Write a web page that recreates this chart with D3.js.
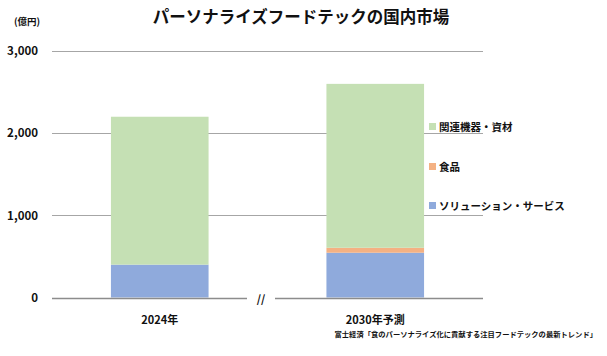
<!DOCTYPE html>
<html><head><meta charset="utf-8">
<script src="https://cdn.jsdelivr.net/npm/d3@7"></script>
<style>
body{margin:0;background:#fff;}
text{font-family:"Noto Sans CJK JP","Noto Sans",sans-serif;font-weight:bold;fill:#111;}
</style></head>
<body><svg id="c" width="607" height="356"></svg>
<script>
const categories = ["2024年", "2030年予測"];
const seriesNames = ["ソリューション・サービス", "食品", "関連機器・資材"];
const solution = [400, 545];
const food = [0, 60];
const equipment = [1800, 1995];
const yTicks = [0, 1000, 2000, 3000];
const colors = ["#8FAADC", "#F4B183", "#C5E0B4"];

const svg = d3.select("#c");
const rows = categories.map((c, i) => ({cat: c, s0: solution[i], s1: food[i], s2: equipment[i]}));
const keys = ["s0", "s1", "s2"];
const stack = d3.stack().keys(keys)(rows);

const y = d3.scaleLinear().domain([0, 3000]).range([297.5, 51]);
const x = d3.scaleBand().domain(categories).range([52, 483]).paddingInner(0.547).paddingOuter(0.2735);

// gridlines
svg.append("g").selectAll("line").data(yTicks.filter(d => d > 0)).join("line")
  .attr("x1", 52).attr("x2", 483)
  .attr("y1", d => Math.round(y(d)) + 0.5).attr("y2", d => Math.round(y(d)) + 0.5)
  .attr("stroke", "#A6A6A6").attr("stroke-width", 1.2);

// bars
svg.append("g").selectAll("g").data(stack).join("g")
  .attr("fill", (d, i) => colors[i])
  .selectAll("rect").data(d => d).join("rect")
  .attr("x", d => x(d.data.cat)).attr("width", x.bandwidth())
  .attr("y", d => y(d[1])).attr("height", d => y(d[0]) - y(d[1]));

// baseline with break
const by = Math.round(y(0)) + 0.5;
svg.append("line").attr("x1", 52).attr("x2", 247).attr("y1", by).attr("y2", by).attr("stroke", "#8C8C8C").attr("stroke-width", 1.3);
svg.append("line").attr("x1", 275).attr("x2", 483).attr("y1", by).attr("y2", by).attr("stroke", "#8C8C8C").attr("stroke-width", 1.3);
svg.append("text").attr("x", 261).attr("y", by + 4).attr("text-anchor", "middle").attr("font-size", 11).text("//");

// y axis labels
const yAxis = d3.axisLeft(y).tickValues(yTicks).tickSize(0).tickPadding(0).tickFormat(d3.format(","));
const ya = svg.append("g").attr("transform", "translate(38,0)").call(yAxis);
ya.select(".domain").remove();
ya.selectAll("text").attr("font-size", 11.5).attr("font-family", null).style("fill", "#111");

// x axis labels
const xAxis = d3.axisBottom(x).tickSize(0).tickPadding(0);
const xa = svg.append("g").attr("transform", "translate(0,316)").call(xAxis);
xa.select(".domain").remove();
xa.selectAll("text").attr("font-size", 11).attr("font-family", null).style("fill", "#111");

// title
svg.append("text").attr("x", 301).attr("y", 23).attr("text-anchor", "middle").attr("font-size", 16.5).text("パーソナライズフードテックの国内市場");
svg.append("text").attr("x", 14).attr("y", 25).attr("font-size", 9.5).text("(億円)");

// legend
const legendY = [205.5, 166.5, 126.5];
const lg = svg.append("g").selectAll("g").data(seriesNames).join("g")
  .attr("transform", (d, i) => `translate(429,${legendY[i]})`);
lg.append("rect").attr("x", 0).attr("y", -3.5).attr("width", 7).attr("height", 7).attr("fill", (d, i) => colors[i]);
lg.append("text").attr("x", 10).attr("y", 4).attr("font-size", 10.5).text(d => d);

// source
svg.append("text").attr("x", 597).attr("y", 337).attr("text-anchor", "end").attr("font-size", 7.3).text("富士経済「食のパーソナライズ化に貢献する注目フードテックの最新トレンド」");
</script></body></html>
